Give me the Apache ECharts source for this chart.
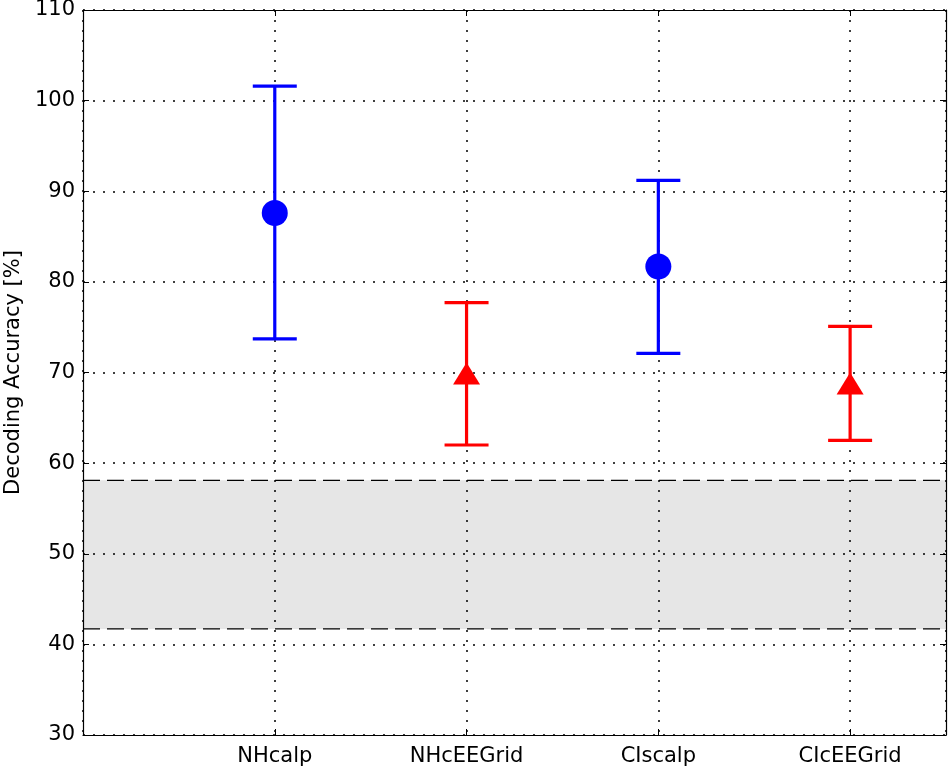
<!DOCTYPE html>
<html>
<head>
<meta charset="utf-8">
<script src="https://cdn.jsdelivr.net/npm/echarts@6/dist/echarts.min.js"></script>
<style>
html,body{margin:0;padding:0;background:#fff;}
#chart{width:950px;height:772px;}
</style>
</head>
<body>
<div id="chart"></div>
<script>
// ---- data ----
const categories = ['NHcalp', 'NHcEEGrid', 'CIscalp', 'CIcEEGrid'];
const means = [87.6, 69.9, 81.7, 68.8];
const lowerBounds = [73.7, 62.0, 72.1, 62.5];
const upperBounds = [101.6, 77.7, 91.2, 75.1];
const chanceBand = [41.7, 58.1];
const yTicks = [30, 40, 50, 60, 70, 80, 90, 100, 110];
const yAxisTitle = 'Decoding Accuracy [%]';

// groups: scalp recordings (blue circles) vs cEEGrid (red triangles)
const scalpIdx = [0, 2];
const gridIdx = [1, 3];

const FONT = "'DejaVu Sans', 'Liberation Sans', Arial, sans-serif";
const dotted = { type: [2, 8], color: '#000', width: 1.5 };

function pts(idx) { return idx.map(i => [i + 1, means[i]]); }
function bars(idx) { return idx.map(i => [i + 1, lowerBounds[i], upperBounds[i]]); }

function errorRender(color) {
  return function (params, api) {
    const x = api.value(0);
    const lo = api.coord([x, api.value(1)]);
    const hi = api.coord([x, api.value(2)]);
    const hw = 22;
    const st = { stroke: color, lineWidth: 3.2, fill: null };
    return {
      type: 'group',
      children: [
        { type: 'line', shape: { x1: lo[0], y1: lo[1], x2: hi[0], y2: hi[1] }, style: st },
        { type: 'line', shape: { x1: hi[0] - hw, y1: hi[1], x2: hi[0] + hw, y2: hi[1] }, style: st },
        { type: 'line', shape: { x1: lo[0] - hw, y1: lo[1], x2: lo[0] + hw, y2: lo[1] }, style: st }
      ]
    };
  };
}

const chart = echarts.init(document.getElementById('chart'), null, { renderer: 'canvas' });

const option = {
  backgroundColor: '#fff',
  animation: false,
  textStyle: { fontFamily: FONT },
  grid: { left: 83, right: 4, top: 10, bottom: 37, show: false, containLabel: false, outerBoundsMode: 'none' },
  xAxis: [
    {
      type: 'value', min: 0, max: 4.5, interval: 1, position: 'bottom',
      axisLine: { show: true, onZero: false, lineStyle: { color: '#000', width: 1.2 } },
      axisTick: { show: true, inside: true, length: 6, lineStyle: { color: '#000' } },
      axisLabel: {
        show: true, color: '#000', fontSize: 21, fontFamily: FONT, margin: 11,
        formatter: v => (Number.isInteger(v) && v >= 1 && v <= categories.length) ? categories[v - 1] : ''
      },
      splitLine: { show: true, lineStyle: dotted }
    },
    {
      type: 'value', min: 0, max: 4.5, interval: 1, position: 'top',
      axisLine: { show: true, onZero: false, lineStyle: { color: '#000', width: 1.2 } },
      axisTick: { show: true, inside: true, length: 6, lineStyle: { color: '#000' } },
      axisLabel: { show: false },
      splitLine: { show: false }
    }
  ],
  yAxis: [
    {
      type: 'value', min: yTicks[0], max: yTicks[yTicks.length - 1], interval: 10, position: 'left',
      name: yAxisTitle, nameLocation: 'middle', nameGap: 59,
      nameTextStyle: { fontSize: 21, color: '#000', fontFamily: FONT },
      axisLine: { show: true, onZero: false, lineStyle: { color: '#000', width: 1.2 } },
      axisTick: { show: true, inside: true, length: 6, lineStyle: { color: '#000' } },
      axisLabel: { show: true, color: '#000', fontSize: 21, fontFamily: FONT, margin: 8 },
      splitLine: { show: true, lineStyle: dotted }
    },
    {
      type: 'value', min: yTicks[0], max: yTicks[yTicks.length - 1], interval: 10, position: 'right',
      axisLine: { show: true, onZero: false, lineStyle: { color: '#000', width: 1.2 } },
      axisTick: { show: true, inside: true, length: 6, lineStyle: { color: '#000' } },
      axisLabel: { show: false },
      splitLine: { show: false }
    }
  ],
  series: [
    {
      name: 'chance', type: 'custom', z: -1, silent: true,
      xAxisIndex: 0, yAxisIndex: 0,
      data: [[0, chanceBand[0], 4.5, chanceBand[1]]],
      renderItem: function (params, api) {
        const p0 = api.coord([api.value(0), api.value(1)]);
        const p1 = api.coord([api.value(2), api.value(3)]);
        const dash = { stroke: '#000', lineWidth: 1.3, lineDash: [17, 7], fill: null };
        return {
          type: 'group',
          children: [
            { type: 'rect', shape: { x: p0[0], y: p1[1], width: p1[0] - p0[0], height: p0[1] - p1[1] }, style: { fill: '#e6e6e6' } },
            { type: 'line', shape: { x1: p0[0], y1: p1[1], x2: p1[0], y2: p1[1] }, style: dash },
            { type: 'line', shape: { x1: p0[0], y1: p0[1], x2: p1[0], y2: p0[1] }, style: dash }
          ]
        };
      }
    },
    {
      name: 'scalp-err', type: 'custom', z: 3, xAxisIndex: 0, yAxisIndex: 0,
      data: bars(scalpIdx), renderItem: errorRender('#0000ff')
    },
    {
      name: 'grid-err', type: 'custom', z: 3, xAxisIndex: 0, yAxisIndex: 0,
      data: bars(gridIdx), renderItem: errorRender('#ff0000')
    },
    {
      name: 'scalp', type: 'scatter', z: 4, xAxisIndex: 0, yAxisIndex: 0,
      data: pts(scalpIdx), symbol: 'circle', symbolSize: 26,
      itemStyle: { color: '#0000ff', opacity: 1 }
    },
    {
      name: 'grid', type: 'scatter', z: 4, xAxisIndex: 0, yAxisIndex: 0,
      data: pts(gridIdx), symbol: 'triangle', symbolSize: [27, 22],
      itemStyle: { color: '#ff0000', opacity: 1 }
    }
  ]
};

chart.setOption(option);
</script>
</body>
</html>
